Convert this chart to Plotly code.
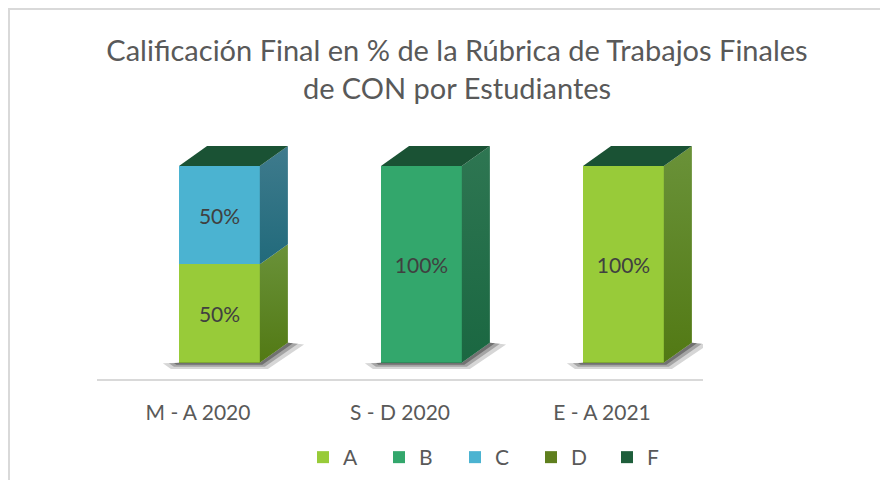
import plotly.graph_objects as go

# ---------------- data ----------------
categories = ["M - A 2020", "S - D 2020", "E - A 2021"]
series_names = ["A", "B", "C", "D", "F"]
values_A = [50, 0, 100]
values_B = [0, 100, 0]
values_C = [50, 0, 0]
values_D = [0, 0, 0]
values_F = [0, 0, 0]
title_text = "Calificación Final en % de la Rúbrica de Trabajos Finales<br>de CON por Estudiantes"

series_values = [values_A, values_B, values_C, values_D, values_F]

# ---------------- style ----------------
front_colors = ["#98cb39", "#33a76c", "#4bb3d1", "#5f7f1e", "#1e5e3b"]
side_grad = [("#6a9239", "#527914"), ("#2e7652", "#1a6741"), ("#3f7b8d", "#216a7b"),
             ("#5a781c", "#4a6a12"), ("#1b5535", "#164a2e")]
top_color = "#1a5234"
text_color = "#404040"
axis_text_color = "#595959"
FONT = "Lato"

# geometry (figure pixels; page has an 8px body margin)
W, H = 880, 472
L, R, T, B = 89, 185, 122, 101
x_range = [-0.5, 2.5]
y_range = [-8.29, 118.3]
shift = 0.106          # 3D offset of front face from category centre
bw = 0.40              # bar width (data units)
dx, dy = 0.139, 10.17  # depth of the 3D bars

xs = [i + shift for i in range(len(categories))]

fig = go.Figure()

# shadows
for i, x in enumerate(xs):
    xl, xr = x - bw / 2, x + bw / 2
    for pad, alpha in [(0.08, 0.2), (0.05, 0.3), (0.025, 0.45)]:
        px = [xl - pad, xl, xr, xr + dx, xr + dx + pad, xr + pad / 2, xl - pad / 2, xl - pad]
        py = [-0.3, 0, 0, dy, dy - pad * 12, -pad * 40, -pad * 40, -0.3]
        fig.add_trace(go.Scatter(x=px, y=py, mode="lines", fill="toself",
                                 fillcolor=f"rgba(50,50,50,{alpha})", line=dict(width=0),
                                 hoverinfo="skip", showlegend=False))

# front faces (bars)
for name, vals, col in zip(series_names, series_values, front_colors):
    fig.add_trace(go.Bar(
        x=xs, y=vals, name=name, width=bw,
        marker=dict(color=col, line=dict(width=0)),
        text=[f"{v}%" if v else "" for v in vals],
        textposition="inside", insidetextanchor="middle", textangle=0,
        textfont=dict(family=FONT, size=21, color=text_color),
        hoverinfo="skip",
    ))

# side and top faces
for i, x in enumerate(xs):
    xr = x + bw / 2
    base = 0
    for name, vals, (c0, c1) in zip(series_names, series_values, side_grad):
        v = vals[i]
        if v <= 0:
            continue
        top = base + v
        fig.add_trace(go.Scatter(
            x=[xr, xr + dx, xr + dx, xr, xr], y=[base, base + dy, top + dy, top, base],
            mode="lines", fill="toself", line=dict(width=0),
            fillgradient=dict(type="vertical", colorscale=[[0, c1], [1, c0]]),
            hoverinfo="skip", showlegend=False))
        base = top
    xl = x - bw / 2
    fig.add_trace(go.Scatter(
        x=[xl, xr, xr + dx, xl + dx, xl], y=[base, base, base + dy, base + dy, base],
        mode="lines", fill="toself", fillcolor=top_color, line=dict(width=0),
        hoverinfo="skip", showlegend=False))

# border lines of chart area
pw, ph = W - L - R, H - T - B
def px2paper_x(p): return (p - L) / pw
def px2paper_y(p): return (H - B - p) / ph
shapes = [
    dict(type="line", xref="paper", yref="paper", x0=px2paper_x(1), x1=px2paper_x(1),
         y0=px2paper_y(1), y1=px2paper_y(H), line=dict(color="#d9d9d9", width=2)),
    dict(type="line", xref="paper", yref="paper", x0=px2paper_x(0), x1=px2paper_x(W),
         y0=px2paper_y(1), y1=px2paper_y(1), line=dict(color="#d9d9d9", width=2)),
]

fig.update_layout(
    width=W, height=H,
    margin=dict(l=L, r=R, t=T, b=B, autoexpand=False),
    paper_bgcolor="white", plot_bgcolor="white",
    barmode="stack", bargap=0,
    title=dict(text=title_text, x=449 / W, xanchor="center", y=1 - 53 / H, yanchor="top",
               font=dict(family=FONT, size=29, color=axis_text_color)),
    xaxis=dict(range=x_range, tickvals=list(range(len(categories))), ticktext=categories,
               showgrid=False, zeroline=False, showline=True, linecolor="#d9d9d9", linewidth=2,
               ticks="outside", ticklen=14, tickcolor="rgba(0,0,0,0)",
               tickfont=dict(family=FONT, size=21, color=axis_text_color), fixedrange=True),
    yaxis=dict(range=y_range, visible=False, showgrid=False, zeroline=False, fixedrange=True),
    legend=dict(orientation="h", x=px2paper_x(295), xanchor="left", y=px2paper_y(429),
                yanchor="top", font=dict(family=FONT, size=21, color=axis_text_color),
                entrywidth=31, entrywidthmode="pixels", bgcolor="rgba(0,0,0,0)",
                traceorder="normal"),
    shapes=shapes,
    showlegend=True,
)

fig.write_html("out.html")
